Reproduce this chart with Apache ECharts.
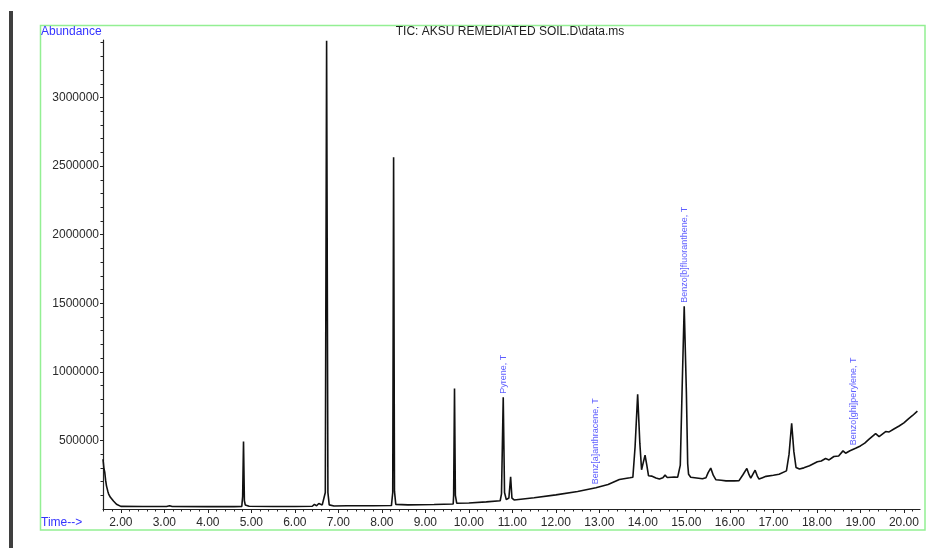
<!DOCTYPE html>
<html>
<head>
<meta charset="utf-8">
<title>TIC: AKSU REMEDIATED SOIL.D\data.ms</title>
<script src="https://cdn.jsdelivr.net/npm/echarts@6/dist/echarts.min.js"></script>
<style>
  html, body { margin: 0; padding: 0; background: #fff; }
  #main { width: 941px; height: 548px; }
</style>
</head>
<body>
<div id="main"></div>
<script>
// 保留时间 (min) 与 丰度
var rtMin = [
  1.59, 1.61, 1.63, 1.65, 1.67, 1.70, 1.72, 1.76, 1.79, 1.83, 1.86, 1.90, 1.94, 2.00,
  2.50, 3.05, 3.12, 3.18, 4.00, 4.60, 4.78, 4.80, 4.82, 4.84, 4.86, 4.90, 4.95,
  5.50, 6.00, 6.40, 6.45, 6.50, 6.55, 6.58, 6.63, 6.67, 6.70, 6.73, 6.76, 6.79,
  6.90, 7.20, 7.80, 8.22, 8.25, 8.27, 8.29, 8.32, 8.60, 9.20, 9.64, 9.65, 9.67,
  9.69, 9.72, 10.00, 10.40, 10.72, 10.75, 10.79, 10.82, 10.86, 10.92, 10.96, 10.99,
  11.04, 11.50, 12.00, 12.50, 12.92, 13.20, 13.46, 13.70, 13.77, 13.82, 13.88, 13.93,
  13.97, 14.01, 14.05, 14.09, 14.13, 14.20, 14.30, 14.38, 14.46, 14.51, 14.56, 14.60,
  14.65, 14.68, 14.72, 14.80, 14.86, 14.90, 14.95, 15.00, 15.03, 15.05, 15.10, 15.14,
  15.37, 15.45, 15.50, 15.56, 15.62, 15.68, 15.80, 15.91, 16.10, 16.21, 16.30, 16.39,
  16.44, 16.48, 16.53, 16.58, 16.63, 16.67, 16.75, 16.83, 17.00, 17.13, 17.30, 17.36,
  17.42, 17.47, 17.52, 17.60, 17.70, 17.83, 18.01, 18.10, 18.20, 18.28, 18.39, 18.50,
  18.60, 18.66, 18.76, 18.89, 19.00, 19.10, 19.20, 19.35, 19.43, 19.58, 19.66, 19.78,
  19.89, 20.00, 20.11, 20.20, 20.31
];
var abundance = [
  363000, 300000, 269000, 210000, 169000, 130000, 109000, 85000, 73000, 58000, 49000, 35000, 24000, 19000,
  18000, 18000, 24000, 18000, 17000, 17000, 18000, 90000, 492000, 60000, 30000, 26000, 20000,
  18000, 18000, 20000, 34000, 24000, 40000, 26000, 30000, 25000, 120000, 3415000, 120000, 30000,
  22000, 24000, 24000, 25000, 120000, 2565000, 130000, 34000, 30000, 33000, 36000, 100000, 879000,
  100000, 42000, 44000, 52000, 60000, 110000, 814000, 120000, 68000, 80000, 235000, 80000,
  66000, 82000, 103000, 128000, 155000, 178000, 215000, 228000, 232000, 450000, 836000, 480000,
  286000, 340000, 392000, 320000, 242000, 240000, 226000, 218000, 228000, 247000, 230000, 223000,
  232000, 238000, 233000, 232000, 320000, 850000, 1478000, 850000, 330000, 254000, 232000, 223000,
  220000, 228000, 265000, 298000, 245000, 213000, 210000, 205000, 205000, 207000, 250000, 296000,
  250000, 225000, 255000, 283000, 240000, 218000, 228000, 238000, 246000, 254000, 278000, 400000,
  625000, 420000, 303000, 291000, 300000, 315000, 344000, 350000, 368000, 358000, 383000, 387000,
  424000, 407000, 425000, 443000, 460000, 480000, 509000, 550000, 528000, 565000, 562000, 585000,
  605000, 628000, 659000, 682000, 714000
];

// 峰标注
var peakNames = ['Pyrene, T', 'Benz[a]anthracene, T', 'Benzo[b]fluoranthene, T', 'Benzo[ghi]perylene, T'];
var peakTimes = [10.79, 12.92, 14.95, 18.84];
var peakHeights = [814000, 155000, 1478000, 440000];

// 坐标轴刻度
var xMajor = [2, 3, 4, 5, 6, 7, 8, 9, 10, 11, 12, 13, 14, 15, 16, 17, 18, 19, 20];
var yMajor = [500000, 1000000, 1500000, 2000000, 2500000, 3000000];

var xMinor = [];
for (var t = 16; t <= 203; t += 2) xMinor.push(t / 10);
var yMinor = [];
for (var v = 1; v <= 34; v++) yMinor.push(v * 100000);

var X_MIN = 1.59, X_MAX = 20.37, Y_MAX = 3420000;

var lineData = [];
for (var i = 0; i < rtMin.length; i++) lineData.push([rtMin[i], abundance[i]]);

var labelData = [];
for (var k = 0; k < peakNames.length; k++) {
  labelData.push({ name: peakNames[k], value: [peakTimes[k], peakHeights[k]] });
}

var chart = echarts.init(document.getElementById('main'));
var axisFont = { fontFamily: 'Liberation Sans, Arial, sans-serif', fontSize: 12, color: '#2a2a2a' };
var blue = '#3434ff';

var option = {
  animation: false,
  backgroundColor: '#fff',
  grid: { left: 103, right: 21, top: 40, bottom: 39, containLabel: false },
  xAxis: [{
    type: 'value', min: X_MIN, max: X_MAX,
    axisLine: { show: true, lineStyle: { color: '#222', width: 1.2 } },
    axisTick: { show: true, length: 4, customValues: xMajor, lineStyle: { color: '#222' } },
    axisLabel: Object.assign({ customValues: xMajor, margin: 8,
      formatter: function (v) { return v.toFixed(2); } }, axisFont),
    splitLine: { show: false }
  }, {
    type: 'value', min: X_MIN, max: X_MAX, position: 'bottom', offset: 0,
    axisLine: { show: false },
    axisTick: { show: true, length: 2.5, customValues: xMinor, lineStyle: { color: '#222' } },
    axisLabel: { show: false },
    splitLine: { show: false }
  }],
  yAxis: [{
    type: 'value', min: 0, max: Y_MAX,
    axisLine: { show: true, lineStyle: { color: '#222', width: 1.2 } },
    axisTick: { show: true, length: 3, customValues: yMajor, lineStyle: { color: '#222' } },
    axisLabel: Object.assign({ customValues: yMajor, margin: 4,
      formatter: function (v) { return String(v); } }, axisFont),
    splitLine: { show: false }
  }, {
    type: 'value', min: 0, max: Y_MAX, position: 'left', offset: 0,
    axisLine: { show: false },
    axisTick: { show: true, length: 2.5, customValues: yMinor, lineStyle: { color: '#222' } },
    axisLabel: { show: false },
    splitLine: { show: false }
  }],
  series: [{
    type: 'line',
    xAxisIndex: 0, yAxisIndex: 0,
    data: lineData,
    showSymbol: false,
    lineStyle: { color: '#111', width: 1.6 },
    z: 3
  }, {
    type: 'scatter',
    xAxisIndex: 0, yAxisIndex: 0,
    data: labelData,
    symbol: 'circle', symbolSize: 1,
    itemStyle: { color: 'transparent' },
    label: {
      show: true, position: 'top', distance: 3, rotate: 90,
      align: 'left', verticalAlign: 'middle',
      formatter: '{b}', color: blue, fontSize: 9,
      fontFamily: 'Liberation Sans, Arial, sans-serif'
    },
    z: 4
  }],
  graphic: [
    { type: 'rect', shape: { x: 9, y: 11, width: 4, height: 537 }, style: { fill: '#3f3f3f' } },
    { type: 'rect', shape: { x: 40.5, y: 25.5, width: 884.5, height: 504.5 },
      style: { fill: 'none', stroke: '#93ef93', lineWidth: 1.5 } },
    { type: 'text', x: 510, y: 32,
      style: { text: 'TIC: AKSU REMEDIATED SOIL.D\\data.ms', align: 'center', verticalAlign: 'middle',
        fill: '#222', font: '12px "Liberation Sans", Arial, sans-serif' } },
    { type: 'text', x: 41, y: 32,
      style: { text: 'Abundance', align: 'left', verticalAlign: 'middle',
        fill: blue, font: '12px "Liberation Sans", Arial, sans-serif' } },
    { type: 'text', x: 41, y: 523,
      style: { text: 'Time-->', align: 'left', verticalAlign: 'middle',
        fill: blue, font: '12px "Liberation Sans", Arial, sans-serif' } }
  ]
};

chart.setOption(option);
</script>
</body>
</html>
